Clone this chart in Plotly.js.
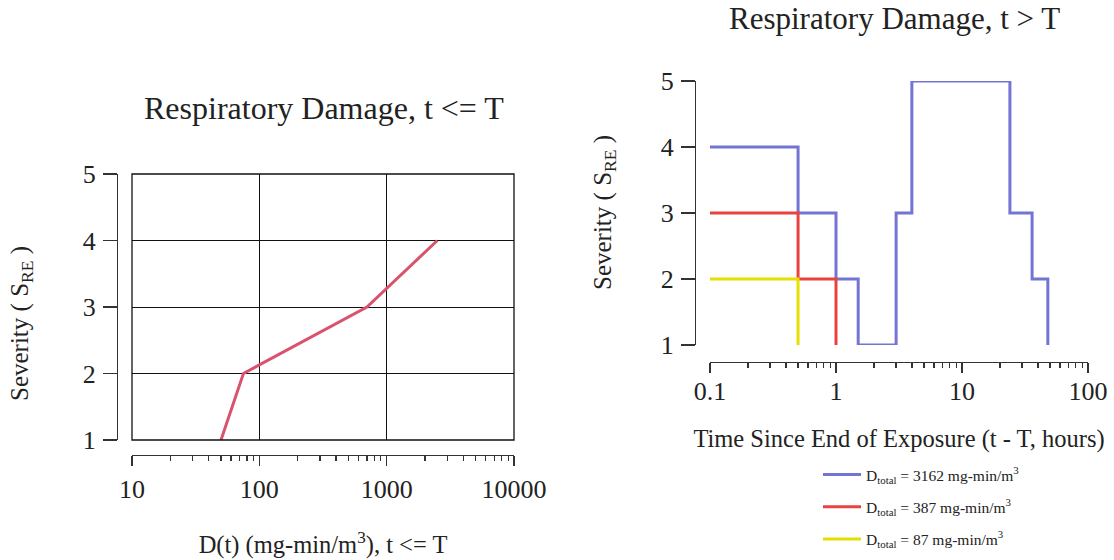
<!DOCTYPE html>
<html>
<head>
<meta charset="utf-8">
<script src="https://cdn.plot.ly/plotly-3.0.1.min.js"></script>
<style>html,body{margin:0;padding:0;background:#fff;}#chart{width:1114px;height:560px;}</style>
</head>
<body>
<div id="chart"></div>
<script>
// ---- Left panel: severity vs dose during exposure ----
const doseVals = [50, 75, 700, 2500];
const doseSeverity = [1, 2, 3, 4];
const leftXTicks = [10, 100, 1000, 10000];
const leftXTickText = ["10", "100", "1000", "10000"];

// ---- Right panel: severity vs time since end of exposure ----
const timeHigh = [0.1, 0.5, 1, 1.5, 3, 4, 24, 36, 48];
const sevHigh = [4, 3, 2, 1, 3, 5, 3, 2, 1];
const timeMid = [0.1, 0.5, 1];
const sevMid = [3, 2, 1];
const timeLow = [0.1, 0.5];
const sevLow = [2, 1];
const seriesNames = [
  "D<sub>total</sub> = 3162 mg-min/m<sup>3</sup>",
  "D<sub>total</sub> = 387 mg-min/m<sup>3</sup>",
  "D<sub>total</sub> = 87 mg-min/m<sup>3</sup>"
];
const rightXTicks = [0.1, 1, 10, 100];
const rightXTickText = ["0.1", "1", "10", "100"];
const severityTicks = [1, 2, 3, 4, 5];

function minorLog(lo, hi) {
  const out = [];
  for (let d = lo; d < hi; d *= 10) for (let k = 2; k <= 9; k++) out.push(+(d * k).toPrecision(6));
  return out;
}

const W = 1114, H = 560;
const px = v => v / W, py = v => 1 - v / H;
const FONT = "Liberation Serif, Times New Roman, serif";

const traces = [
  {x: doseVals, y: doseSeverity, xaxis: 'x', yaxis: 'y', type: 'scatter', mode: 'lines',
   line: {color: '#d9536f', width: 3}, showlegend: false, hoverinfo: 'x+y'},
  {x: timeHigh, y: sevHigh, xaxis: 'x2', yaxis: 'y2', type: 'scatter', mode: 'lines',
   line: {color: '#7474d4', width: 3, shape: 'hv'}, name: seriesNames[0], legendgroup: 'a'},
  {x: timeMid, y: sevMid, xaxis: 'x2', yaxis: 'y2', type: 'scatter', mode: 'lines',
   line: {color: '#e8433f', width: 3, shape: 'hv'}, name: seriesNames[1], legendgroup: 'b'},
  {x: timeLow, y: sevLow, xaxis: 'x2', yaxis: 'y2', type: 'scatter', mode: 'lines',
   line: {color: '#e6e000', width: 3, shape: 'hv'}, name: seriesNames[2], legendgroup: 'c'}
];

const tickFont = {family: FONT, size: 26, color: '#222'};
const titleFont = {family: FONT, size: 24.5, color: '#222'};
const yTitleFont = {family: FONT, size: 25, color: '#222'};

const layout = {
  width: W, height: H,
  margin: {l: 0, r: 0, t: 0, b: 0},
  paper_bgcolor: '#fff', plot_bgcolor: 'rgba(0,0,0,0)',
  font: {family: FONT, color: '#222'},
  showlegend: true,
  legend: {x: px(818), y: py(458), xanchor: 'left', yanchor: 'top',
           font: {family: FONT, size: 15.5, color: '#222'}, tracegroupgap: 9,
           itemwidth: 38, bgcolor: 'rgba(0,0,0,0)'},
  xaxis: {
    domain: [px(132), px(514)], type: 'log', range: [1, 4],
    anchor: 'free', position: 1 - 455 / H,
    showgrid: true, gridcolor: '#111', gridwidth: 1, zeroline: false,
    showline: true, linecolor: '#333', linewidth: 1.3,
    tickmode: 'array', tickvals: leftXTicks, ticktext: leftXTickText,
    ticks: 'outside', ticklen: 10, tickcolor: '#333', tickwidth: 1.3,
    minor: {tickmode: 'array', tickvals: minorLog(10, 10000), ticks: 'outside', ticklen: 5, tickcolor: '#333', showgrid: false},
    tickfont: tickFont, ticklabelstandoff: 0,
    title: {text: "D(t) (mg-min/m<sup>3</sup>), t &lt;= T", font: titleFont, standoff: 33}
  },
  yaxis: {
    domain: [py(440), py(174)], range: [1, 5],
    anchor: 'free', position: px(117),
    showgrid: true, gridcolor: '#111', gridwidth: 1, zeroline: false,
    showline: true, linecolor: '#333', linewidth: 1.3,
    tickmode: 'array', tickvals: severityTicks,
    ticks: 'outside', ticklen: 14, tickcolor: '#333', tickwidth: 1.3,
    tickfont: tickFont, ticklabelstandoff: 2
  },
  xaxis2: {
    domain: [px(710), px(1088)], type: 'log', range: [-1, 2],
    anchor: 'free', position: 1 - 362 / H,
    showgrid: false, zeroline: false,
    showline: true, linecolor: '#333', linewidth: 1.3,
    tickmode: 'array', tickvals: rightXTicks, ticktext: rightXTickText,
    ticks: 'outside', ticklen: 10, tickcolor: '#333', tickwidth: 1.3,
    minor: {tickmode: 'array', tickvals: minorLog(0.1, 100), ticks: 'outside', ticklen: 5, tickcolor: '#333', showgrid: false},
    tickfont: tickFont, ticklabelstandoff: -5,
    title: {text: "Time Since End of Exposure (t - T, hours)", font: titleFont, standoff: 25}
  },
  yaxis2: {
    domain: [py(345), py(81)], range: [1, 5],
    anchor: 'free', position: px(695),
    showgrid: false, zeroline: false,
    showline: true, linecolor: '#333', linewidth: 1.3,
    tickmode: 'array', tickvals: severityTicks,
    ticks: 'outside', ticklen: 14, tickcolor: '#333', tickwidth: 1.3,
    tickfont: tickFont, ticklabelstandoff: 2
  },
  shapes: [
    {type: 'rect', xref: 'x domain', yref: 'y domain', x0: 0, x1: 1, y0: 0, y1: 1,
     line: {color: '#111', width: 1.3}, fillcolor: 'rgba(0,0,0,0)', layer: 'above'}
  ],
  annotations: [
    {text: "Respiratory Damage, t &lt;= T", xref: 'paper', yref: 'paper', x: px(324), y: py(108),
     xanchor: 'center', yanchor: 'middle', showarrow: false, font: {family: FONT, size: 32, color: '#222'}},
    {text: "Respiratory Damage, t &gt; T", xref: 'paper', yref: 'paper', x: px(894), y: py(19),
     xanchor: 'center', yanchor: 'middle', showarrow: false, font: {family: FONT, size: 31, color: '#222'}},
    {text: "Severity ( S<sub>RE</sub> )", xref: 'paper', yref: 'paper', x: px(21), y: py(324),
     textangle: -90, xanchor: 'center', yanchor: 'middle', showarrow: false, font: yTitleFont},
    {text: "Severity ( S<sub>RE</sub> )", xref: 'paper', yref: 'paper', x: px(604), y: py(213),
     textangle: -90, xanchor: 'center', yanchor: 'middle', showarrow: false, font: yTitleFont}
  ]
};

Plotly.newPlot('chart', traces, layout, {displayModeBar: false, staticPlot: true});
</script>
</body>
</html>
